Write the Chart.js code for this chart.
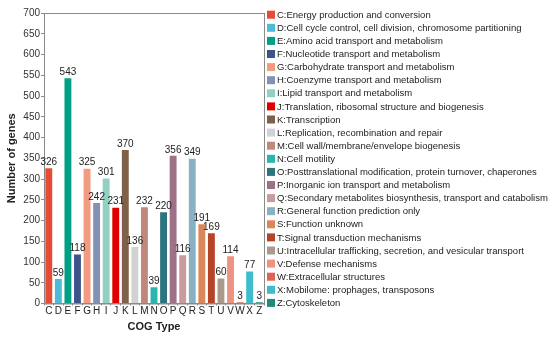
<!DOCTYPE html>
<html>
<head>
<meta charset="utf-8">
<script src="https://cdn.jsdelivr.net/npm/chart.js@4.4.1/dist/chart.umd.min.js"></script>
<style>
  html, body { margin: 0; padding: 0; background: #fff; }
  #wrap { width: 550px; height: 341px; }
</style>
</head>
<body>
<div id="wrap"><canvas id="cogChart" width="550" height="341"></canvas></div>
<script>
// COG categories and gene counts
const cogCodes = ["C", "D", "E", "F", "G", "H", "I", "J", "K", "L", "M", "N", "O", "P", "Q", "R", "S", "T", "U", "V", "W", "X", "Z"];
const geneCounts = [326, 59, 543, 118, 325, 242, 301, 231, 370, 136, 232, 39, 220, 356, 116, 349, 191, 169, 60, 114, 3, 77, 3];
const cogNames = [
    "Energy production and conversion",
    "Cell cycle control, cell division, chromosome partitioning",
    "Amino acid transport and metabolism",
    "Nucleotide transport and metabolism",
    "Carbohydrate transport and metabolism",
    "Coenzyme transport and metabolism",
    "Lipid transport and metabolism",
    "Translation, ribosomal structure and biogenesis",
    "Transcription",
    "Replication, recombination and repair",
    "Cell wall/membrane/envelope biogenesis",
    "Cell motility",
    "Posttranslational modification, protein turnover, chaperones",
    "Inorganic ion transport and metabolism",
    "Secondary metabolites biosynthesis, transport and catabolism",
    "General function prediction only",
    "Function unknown",
    "Signal transduction mechanisms",
    "Intracellular trafficking, secretion, and vesicular transport",
    "Defense mechanisms",
    "Extracellular structures",
    "Mobilome: prophages, transposons",
    "Cytoskeleton"
];
const barColors = [
    "#E64B35", "#4DBBD5", "#00A087", "#3C5488", "#F39B7F", "#8491B4",
    "#91D1C2", "#E00000", "#7E6148", "#D2D2D2", "#C0877C", "#2BB5AE",
    "#2C7480", "#9E7188", "#C99AA0", "#88B2C1", "#DA8859", "#B84427",
    "#AA9A8C", "#EE9282", "#DE6352", "#3DBDCB", "#1F8A7E"
];

const fontFamily = "'Liberation Sans', Arial, sans-serif";

// value labels above each bar
const valueLabels = {
    id: 'valueLabels',
    afterDatasetsDraw(chart) {
        const ctx = chart.ctx;
        const meta = chart.getDatasetMeta(0);
        ctx.save();
        ctx.font = '10px ' + fontFamily;
        ctx.fillStyle = '#222';
        ctx.textAlign = 'center';
        ctx.textBaseline = 'bottom';
        meta.data.forEach((bar, i) => {
            ctx.fillText(geneCounts[i], bar.x, bar.y - 1);
        });
        ctx.restore();
    }
};

// box around the plot area
const plotFrame = {
    id: 'plotFrame',
    beforeDatasetsDraw(chart) {
        const a = chart.chartArea;
        const ctx = chart.ctx;
        ctx.save();
        ctx.strokeStyle = '#8a8a8a';
        ctx.lineWidth = 1;
        ctx.strokeRect(a.left + 0.5, a.top + 0.5, a.right - a.left, a.bottom - a.top);
        ctx.restore();
    }
};

// legend on the right, one row per category
const sideLegend = {
    id: 'sideLegend',
    afterDraw(chart) {
        const ctx = chart.ctx;
        const x0 = chart.chartArea.right + 3;
        const y0 = 14.7;
        const step = 13.1;
        ctx.save();
        ctx.font = '9.5px ' + fontFamily;
        ctx.textBaseline = 'middle';
        cogCodes.forEach((code, i) => {
            const y = y0 + i * step;
            ctx.fillStyle = barColors[i];
            ctx.fillRect(x0, y - 4, 8, 8);
            ctx.fillStyle = '#222';
            ctx.fillText(code + ':' + cogNames[i], x0 + 10, y + 0.5);
        });
        ctx.restore();
    }
};

new Chart(document.getElementById('cogChart'), {
    type: 'bar',
    data: {
        labels: cogCodes,
        datasets: [{
            label: 'Number of genes',
            data: geneCounts,
            backgroundColor: barColors,
            borderWidth: 0,
            barPercentage: 0.9,
            categoryPercentage: 0.8
        }]
    },
    options: {
        responsive: false,
        animation: false,
        devicePixelRatio: 1,
        layout: {
            padding: { left: 0, top: 13, right: 286, bottom: 0 }
        },
        plugins: {
            legend: { display: false },
            tooltip: { enabled: false }
        },
        scales: {
            x: {
                grid: { display: true, drawOnChartArea: false, tickLength: 2, color: '#8a8a8a' },
                border: { display: true, color: '#8a8a8a' },
                ticks: { color: '#222', font: { size: 10, family: fontFamily }, padding: 0, maxRotation: 0, autoSkip: false },
                title: {
                    display: true,
                    text: 'COG Type',
                    color: '#222',
                    font: { size: 11, weight: 'bold', family: fontFamily },
                    padding: { top: 0, bottom: 7 }
                },
                afterFit(scale) { scale.height = 37.5; }
            },
            y: {
                min: 0,
                max: 700,
                ticks: { stepSize: 50, color: '#333', font: { size: 10, family: fontFamily }, padding: 1 },
                grid: { display: true, drawOnChartArea: false, tickLength: 3, color: '#8a8a8a' },
                border: { display: true, color: '#8a8a8a' },
                title: {
                    display: true,
                    text: 'Number of genes',
                    color: '#222',
                    font: { size: 11, weight: 'bold', family: fontFamily },
                    padding: { top: 5, bottom: 0 }
                },
                afterFit(scale) { scale.width = 44; }
            }
        }
    },
    plugins: [plotFrame, valueLabels, sideLegend]
});
</script>
</body>
</html>
